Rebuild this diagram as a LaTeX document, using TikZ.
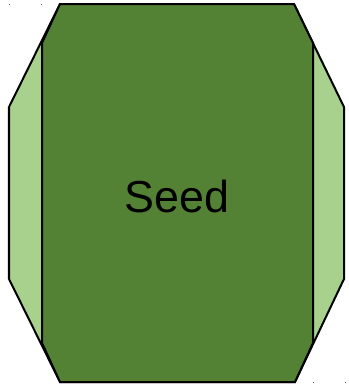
\documentclass[tikz,border=0pt]{standalone}
\usepackage{fontspec}
\setmainfont{Liberation Sans}
\definecolor{lightg}{HTML}{A9D18E}
\definecolor{darkg}{HTML}{548235}
\begin{document}
\begin{tikzpicture}[x=1bp,y=-1bp,
  outline/.style={draw=black,line width=2bp,line join=miter},
  tinydot/.style={fill=black!60,draw=none}]
\useasboundingbox (0,0) rectangle (349,386);
% light outer shape
\path[outline,fill=lightg] (60,4) -- (294,4) -- (344,107) -- (344,279) -- (295,382) -- (60,382) -- (9,279) -- (9,107) -- cycle;
% dark central shape
\path[outline,fill=darkg] (60,4) -- (294,4) -- (313,43) -- (313,343) -- (295,382) -- (60,382) -- (42,343) -- (42,43) -- cycle;
\node (seed) at (177,196) {\fontsize{45}{54}\selectfont Seed};
% tiny marks
\fill[tinydot] (8.5,3.5) rectangle (9.5,4.5);
\fill[tinydot] (40.5,3.5) rectangle (41.5,4.5);
\fill[tinydot] (312.5,381.5) rectangle (313.5,382.5);
\fill[tinydot] (344.5,381.5) rectangle (345.5,382.5);
\end{tikzpicture}
\end{document}
